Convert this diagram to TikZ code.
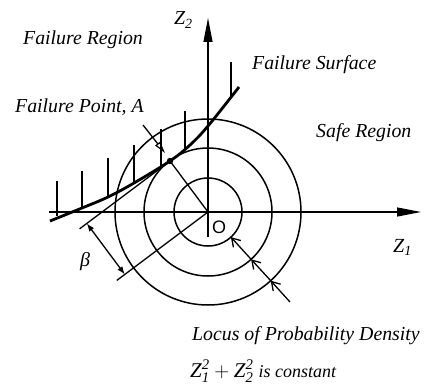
\documentclass[tikz,border=0pt]{standalone}
\usepackage{fontspec}
\setmainfont{Liberation Serif}
\newfontfamily\sansO{Liberation Sans}
\usetikzlibrary{arrows.meta}
\tikzset{
  lbl/.style={anchor=base west, inner sep=0pt, font=\fontsize{19.8}{20}\selectfont\itshape},
  axis/.style={line width=1.3pt, -{Triangle[length=24pt,width=9pt]}},
  ring/.style={line width=1.5pt},
  thinln/.style={line width=1.3pt},
  surf/.style={line width=2.8pt},
  hatch/.style={line width=1.6pt},
  barb/.style={line width=1.3pt, -{Straight Barb[length=8pt,width=10pt,line width=1.3pt]}},
}
\begin{document}
\begin{tikzpicture}[x=1pt,y=-1pt]
\useasboundingbox (0,0) rectangle (427,385);
% key points
\coordinate (O) at (208,212);
\coordinate (A) at (170,161);
\coordinate (T) at (79.6,228.8);
\coordinate (P) at (116.8,280.4);
\coordinate (B1) at (86.8,223.4);
\coordinate (B2) at (124.8,274.4);
\coordinate (XL) at (49,212);
\coordinate (XR) at (421,212);
\coordinate (YB) at (208,237);
\coordinate (YT) at (208,18);
% circles
\draw[ring] (O) circle[radius=34];
\draw[ring] (O) circle[radius=64];
\draw[ring] (O) circle[radius=93];
% axes
\draw[axis] (XL) -- (XR);
\draw[axis] (YB) -- (YT);
% failure surface
\draw[surf] plot[smooth, tension=0.6] coordinates {(50,221) (82,208) (108,197) (134,183) (170,161) (190,145) (208,126) (239,87)};
% hatching
\draw[hatch] (57,181) -- (57,216);
\draw[hatch] (82,171) -- (82,208);
\draw[hatch] (108,158) -- (108,197);
\draw[hatch] (134,145) -- (134,183);
\draw[hatch] (161,129) -- (161,166);
\draw[hatch] (185,111) -- (185,149);
\draw[hatch] (231,62) -- (231,97);
% tangent and normal lines
\draw[thinln] (A) -- (T);
\draw[thinln] (O) -- (P);
\draw[thinln] (A) -- (O);
\fill (A) circle[radius=3.2];
% beta dimension
\draw[line width=1.3pt, {Latex[length=8pt,width=6pt]}-{Latex[length=8pt,width=6pt]}] (B1) -- (B2);
\node[inner sep=0pt, font=\fontsize{20}{20}\selectfont\itshape] (beta) at (85,262) {β};
% failure point pointer
\coordinate (FP1) at (143,125);
\coordinate (FP2) at (165,153);
\draw[line width=1.3pt, -{Triangle[open,length=12pt,width=6pt,line width=1.2pt]}] (FP1) -- (FP2);
% locus arrows
\coordinate (L0) at (290,302);
\coordinate (L3) at (270.7,280.7);
\coordinate (L2) at (251.1,259.3);
\coordinate (L1) at (230.9,237.1);
\draw[barb] (L0) -- (L3);
\draw[barb] (L3) -- (L2);
\draw[barb] (L2) -- (L1);
% labels
\node[lbl] (fr) at (23,45) {Failure Region};
\node[lbl] (fs) at (252,70) {Failure Surface};
\node[lbl] (fpA) at (15,112) {Failure Point, A};
\node[lbl] (sr) at (316,137) {Safe Region};
\node[lbl] (loc) at (192,340) {Locus of Probability Density};
\node[lbl] (z2) at (174,25) {Z\raisebox{-0.4ex}{\fontsize{14}{14}\selectfont 2}};
\node[lbl, font=\fontsize{20}{20}\selectfont\itshape] (z1) at (393,252) {Z\raisebox{-0.4ex}{\fontsize{14}{14}\selectfont 1}};
\node[inner sep=0pt, font=\sansO\fontsize{18}{18}\selectfont] (o) at (219,227) {O};
\node[lbl, font=\fontsize{21}{21}\selectfont\itshape] (eq) at (190,377) {$\mathit{Z}^{\mathit{2}}_{\mathit{1}}+\mathit{Z}^{\mathit{2}}_{\mathit{2}}$ \fontsize{18}{18}\selectfont is constant};
\end{tikzpicture}
\end{document}
